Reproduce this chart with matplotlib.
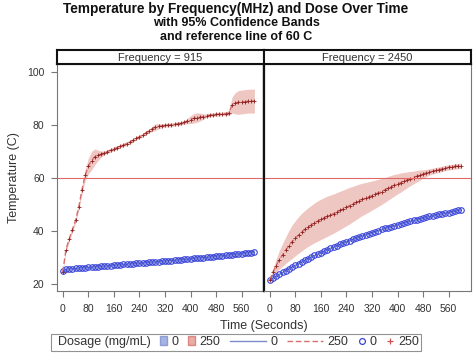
import matplotlib
matplotlib.use("Agg")
import matplotlib.pyplot as plt
import numpy as np
from matplotlib.lines import Line2D
from matplotlib.patches import Patch
from matplotlib.legend_handler import HandlerPatch, HandlerLine2D

plt.rcParams["font.family"] = ["Liberation Sans", "DejaVu Sans"]

# ── data ─────────────────────────────────────────────────────────────────────
time_s = list(range(0, 610, 10))

temp_915_d0 = [24.8, 25.6, 25.7, 25.8, 25.9, 26.0, 26.1, 26.2, 26.3, 26.4,
               26.5, 26.6, 26.7, 26.8, 26.9, 27.0, 27.1, 27.2, 27.3, 27.4,
               27.5, 27.6, 27.7, 27.8, 27.9, 28.0, 28.1, 28.2, 28.3, 28.4,
               28.5, 28.6, 28.7, 28.8, 28.9, 29.0, 29.1, 29.2, 29.3, 29.4,
               29.5, 29.7, 29.8, 29.9, 30.0, 30.1, 30.2, 30.4, 30.5, 30.6,
               30.7, 30.8, 31.0, 31.1, 31.2, 31.4, 31.5, 31.7, 31.8, 31.9, 32.0]
ci_915_d0 = [0.5, 0.5, 0.5, 0.5, 0.5, 0.5, 0.5, 0.5, 0.5, 0.5,
             0.5, 0.5, 0.5, 0.5, 0.6, 0.6, 0.6, 0.6, 0.6, 0.6,
             0.6, 0.6, 0.6, 0.6, 0.6, 0.6, 0.6, 0.6, 0.6, 0.7,
             0.7, 0.7, 0.7, 0.7, 0.7, 0.7, 0.7, 0.7, 0.7, 0.8,
             0.8, 0.8, 0.8, 0.8, 0.8, 0.8, 0.8, 0.9, 0.9, 0.9,
             0.9, 0.9, 0.9, 0.9, 1.0, 1.0, 1.0, 1.0, 1.0, 1.0, 1.0]

temp_915_d250 = [24.5, 33.0, 37.0, 40.5, 44.0, 49.0, 55.5, 61.0, 64.5, 66.5,
                 68.0, 68.5, 69.0, 69.5, 70.0, 70.5, 71.0, 71.5, 72.0, 72.4,
                 73.0, 73.5, 74.2, 75.0, 75.5, 76.2, 77.0, 77.8, 78.5, 79.2,
                 79.5, 79.7, 79.9, 80.0, 80.1, 80.3, 80.5, 80.7, 81.0, 81.5,
                 82.0, 82.5, 82.8, 83.0, 83.2, 83.5, 83.7, 83.9, 84.0, 84.1,
                 84.2, 84.3, 84.5, 87.5, 88.2, 88.5, 88.7, 88.8, 89.0, 89.0, 89.0]
ci_915_d250 = [0.5, 1.0, 1.0, 1.0, 1.0, 1.2, 1.5, 2.0, 3.0, 3.5,
               3.0, 2.0, 1.2, 0.7, 0.7, 0.7, 0.7, 0.7, 0.7, 0.7,
               0.7, 0.7, 0.7, 0.7, 0.7, 0.7, 0.7, 0.7, 1.0, 1.2,
               1.0, 0.7, 0.7, 0.7, 0.7, 0.7, 0.7, 0.7, 0.7, 1.0,
               1.5, 1.8, 1.8, 1.5, 1.0, 0.7, 0.7, 0.7, 0.7, 0.7,
               0.7, 0.7, 1.0, 3.0, 4.0, 4.5, 4.5, 4.5, 4.5, 4.5, 4.5]

temp_2450_d0 = [21.5, 22.3, 23.0, 23.7, 24.4, 25.1, 25.8, 26.5, 27.1, 27.7,
                28.4, 29.0, 29.6, 30.2, 30.8, 31.3, 31.9, 32.4, 33.0, 33.5,
                34.0, 34.5, 35.0, 35.5, 36.0, 36.4, 36.9, 37.3, 37.8, 38.2,
                38.6, 39.0, 39.4, 39.8, 40.2, 40.6, 41.0, 41.3, 41.7, 42.0,
                42.4, 42.7, 43.0, 43.4, 43.7, 44.0, 44.3, 44.6, 44.9, 45.2,
                45.5, 45.7, 46.0, 46.3, 46.5, 46.8, 47.0, 47.3, 47.5, 47.8, 48.0]
ci_2450_d0 = [0.3] * 61

temp_2450_d250 = [21.5, 24.5, 27.0, 29.2, 31.0, 32.8, 34.5, 36.0, 37.3, 38.5,
                  39.6, 40.6, 41.5, 42.3, 43.1, 43.8, 44.4, 45.0, 45.6, 46.1,
                  46.6, 47.2, 47.8, 48.4, 49.0, 49.6, 50.2, 50.8, 51.4, 52.0,
                  52.4, 52.9, 53.4, 53.9, 54.4, 54.9, 55.5, 56.1, 56.7, 57.3,
                  57.8, 58.3, 58.8, 59.3, 59.8, 60.2, 60.7, 61.1, 61.5, 61.9,
                  62.3, 62.6, 62.9, 63.2, 63.5, 63.8, 64.0, 64.2, 64.4, 64.5, 64.6]
ci_2450_d250 = [0.3, 1.3, 2.4, 3.5, 4.3, 5.0, 5.7, 6.3, 6.6, 6.9,
                7.1, 7.2, 7.3, 7.4, 7.5, 7.6, 7.6, 7.6, 7.6, 7.5,
                7.4, 7.3, 7.2, 7.1, 7.0, 6.9, 6.7, 6.5, 6.3, 6.1,
                5.9, 5.7, 5.5, 5.3, 5.1, 4.9, 4.7, 4.5, 4.3, 4.1,
                3.8, 3.6, 3.3, 3.0, 2.7, 2.4, 2.2, 1.9, 1.6, 1.4,
                1.2, 1.1, 1.1, 1.0, 1.0, 1.0, 1.0, 1.0, 1.0, 1.0, 1.0]

frequencies = [915, 2450]
ref_temp = 60
x_ticks = [0, 80, 160, 240, 320, 400, 480, 560]
y_ticks = [20, 40, 60, 80, 100]

panels = {
    915:  [(temp_915_d0, ci_915_d0), (temp_915_d250, ci_915_d250)],
    2450: [(temp_2450_d0, ci_2450_d0), (temp_2450_d250, ci_2450_d250)],
}

# ── styles ───────────────────────────────────────────────────────────────────
BAND = ["#8FA3DC", "#E39A90"]
LINE = ["#7F8CCB", "#D86F6F"]
MARK = ["#3A45D8", "#8E1F1F"]
GRAY = "#777777"
TXT = "#333333"

fig = plt.figure(figsize=(4.75, 3.54), dpi=100)

x0, x1, xm = 57 / 475, 471 / 475, 264 / 475
y_bot, y_top, y_head = 1 - 291 / 354, 1 - 64 / 354, 1 - 50 / 354

t = np.array(time_s)
for i, freq in enumerate(frequencies):
    left = x0 if i == 0 else xm
    w = (xm - x0) if i == 0 else (x1 - xm)
    ax = fig.add_axes([left, y_bot, w, y_top - y_bot])
    for k, (vals, ci) in enumerate(panels[freq]):
        v, c = np.array(vals), np.array(ci)
        ax.fill_between(t, v - c, v + c, color=BAND[k], alpha=0.55, lw=0)
        ax.plot(t, v, color=LINE[k], lw=1.0, ls="-" if k == 0 else (0, (4, 2)))
        if k == 0:
            ax.plot(t, v, ls="none", marker="o", ms=4.0, mfc="none",
                    mec=MARK[k], mew=0.8)
        else:
            ax.plot(t, v, ls="none", marker="+", ms=3.4, color=MARK[k], mew=0.6)
    ax.axhline(ref_temp, color="#E06A6A", lw=0.8)
    ax.set_xlim(-18, 630)
    ax.set_ylim(17.4, 103)
    ax.set_xticks(x_ticks)
    ax.set_xticklabels([str(v) for v in x_ticks])
    ax.tick_params(axis="both", colors=GRAY, labelcolor=TXT, labelsize=7.5,
                   length=4, width=0.8, direction="out", pad=5)
    if i == 0:
        ax.set_yticks(y_ticks)
        ax.set_ylabel("Temperature (C)", fontsize=9, color=TXT, labelpad=5)
    else:
        ax.set_yticks([])
    for s in ax.spines.values():
        s.set_color(GRAY)
        s.set_linewidth(0.8)
    ax.spines["top"].set_color("#111111")
    ax.spines["top"].set_linewidth(1.5)
    inner = "right" if i == 0 else "left"
    ax.spines[inner].set_color("#111111")
    ax.spines[inner].set_linewidth(1.6)

    hx = fig.add_axes([left, y_top, w, y_head - y_top])
    hx.set_xticks([])
    hx.set_yticks([])
    for s in hx.spines.values():
        s.set_color("#111111")
        s.set_linewidth(1.5)
    hx.text(0.5, 0.45, f"Frequency = {freq}", ha="center", va="center",
            fontsize=8, color=TXT, transform=hx.transAxes)

fig.text((x0 + x1) / 2, 1 - 326 / 354, "Time (Seconds)", ha="center",
         va="center", fontsize=9, color=TXT)

fig.text(0.497, 1 - 9 / 354, "Temperature by Frequency(MHz) and Dose Over Time",
         ha="center", va="center", fontsize=9.8, fontweight="bold", color="#111111")
fig.text(0.497, 1 - 23 / 354, "with 95% Confidence Bands",
         ha="center", va="center", fontsize=9, fontweight="bold", color="#111111")
fig.text(0.497, 1 - 37 / 354, "and reference line of 60 C",
         ha="center", va="center", fontsize=9, fontweight="bold", color="#111111")


# ── legend (handles of differing widths, like the original) ─────────────────
class SizedPatch(HandlerPatch):
    def legend_artist(self, legend, orig_handle, fontsize, handlebox):
        handlebox.width = 0.6 * fontsize
        return super().legend_artist(legend, orig_handle, fontsize, handlebox)


class SizedLine(HandlerLine2D):
    def __init__(self, width, **kw):
        super().__init__(**kw)
        self.width = width

    def legend_artist(self, legend, orig_handle, fontsize, handlebox):
        handlebox.width = self.width * fontsize
        return super().legend_artist(legend, orig_handle, fontsize, handlebox)


title_h = Line2D([], [], ls="none")
band0 = Patch(facecolor=BAND[0], edgecolor=LINE[0], alpha=0.8)
band1 = Patch(facecolor=BAND[1], edgecolor=LINE[1], alpha=0.8)
line0 = Line2D([], [], color=LINE[0], lw=1.0)
line1 = Line2D([], [], color=LINE[1], lw=1.0, ls=(0, (4, 2)))
mark0 = Line2D([], [], ls="none", marker="o", ms=4.2, mfc="none", mec=MARK[0], mew=0.9)
mark1 = Line2D([], [], ls="none", marker="+", ms=5, color="#D05050", mew=0.9)

handles = [title_h, band0, band1, line0, line1, mark0, mark1]
labels = ["Dosage (mg/mL)", "0", "250", "0", "250", "0", "250"]
hmap = {
    title_h: SizedLine(0.0),
    band0: SizedPatch(), band1: SizedPatch(),
    line0: SizedLine(2.9), line1: SizedLine(2.9),
    mark0: SizedLine(0.6), mark1: SizedLine(0.6),
}
leg = fig.legend(handles, labels, ncol=7, loc="center",
                 bbox_to_anchor=(236 / 475, 1 - 342 / 354), fontsize=9,
                 frameon=True, fancybox=False, handler_map=hmap,
                 handletextpad=0.35, columnspacing=0.75, borderpad=0.2,
                 borderaxespad=0)
leg.get_frame().set_edgecolor(GRAY)
leg.get_frame().set_linewidth(0.8)
for txt in leg.get_texts():
    txt.set_color(TXT)

fig.savefig("out.png", dpi=100)
